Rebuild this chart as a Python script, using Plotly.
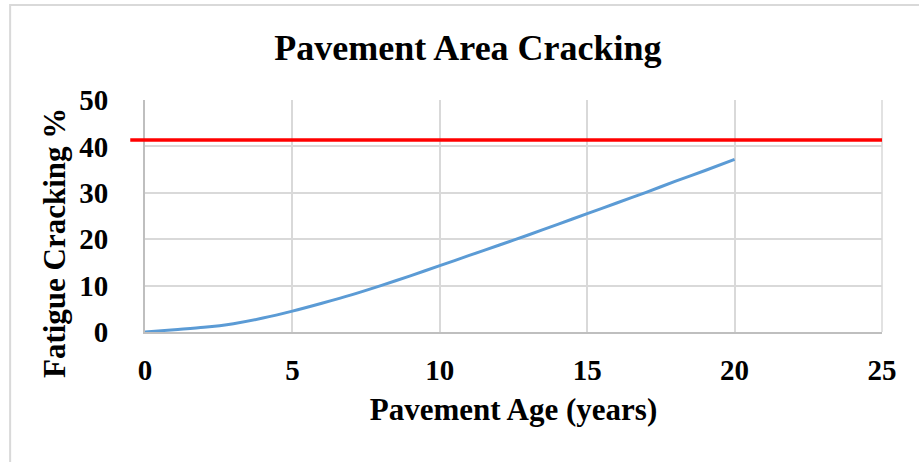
import plotly.graph_objects as go

# Predicted fatigue cracking over pavement life
age_years = [0, 1, 2, 3, 4, 5, 6, 7, 8, 9, 10, 11, 12, 13, 14, 15, 16, 17, 18, 19, 20]
fatigue_cracking = [0.0, 0.5, 1.0, 1.8, 3.0, 4.5, 6.2, 8.0, 10.0, 12.1, 14.3,
                    16.5, 18.7, 20.9, 23.2, 25.5, 27.8, 30.1, 32.5, 34.8, 37.2]
cracking_limit = 41.4

x_ticks = [0, 5, 10, 15, 20, 25]
y_ticks = [0, 10, 20, 30, 40, 50]

SERIF = "Liberation Serif, Times New Roman, serif"
GRID = "#d9d9d9"

fig = go.Figure()
fig.add_trace(go.Scatter(
    x=age_years, y=fatigue_cracking, mode="lines",
    line=dict(color="#5b9bd5", width=3, shape="spline", smoothing=0.8),
    showlegend=False, hoverinfo="x+y",
))

# Design limit line, extended slightly to the left of the value axis
fig.add_shape(type="line", xref="paper", yref="y",
              x0=-0.02, x1=1.0, y0=cracking_limit, y1=cracking_limit,
              line=dict(color="#ff0000", width=3.5), layer="above")

# Chart frame
fig.add_shape(type="rect", xref="paper", yref="paper",
              x0=-0.183, x1=1.3, y0=-0.8, y1=1.409,
              line=dict(color="#d9d9d9", width=2), layer="below")

# Right border of the plot area
fig.add_shape(type="line", xref="paper", yref="paper", x0=1, x1=1, y0=0, y1=1,
              line=dict(color=GRID, width=1.5), layer="below")

# Value axis title
fig.add_annotation(text="<b>Fatigue Cracking %</b>", textangle=-90,
                   xref="paper", yref="paper", x=-0.123, y=0.385,
                   xanchor="center", yanchor="middle", showarrow=False,
                   font=dict(family=SERIF, size=31, color="black"))

fig.update_layout(
    width=919, height=462,
    margin=dict(l=145, r=37, t=100, b=130),
    paper_bgcolor="white", plot_bgcolor="white",
    title=dict(text="<b>Pavement Area Cracking</b>",
               x=468 / 919, xref="container", xanchor="center",
               y=1 - 47 / 462, yref="container", yanchor="middle",
               font=dict(family=SERIF, size=36, color="black")),
    xaxis=dict(range=[0, 25], tickvals=x_ticks, ticktext=[f"<b>{v}</b>" for v in x_ticks],
               showgrid=True, gridcolor=GRID, gridwidth=1.5,
               showline=True, linecolor="#bfbfbf", linewidth=2,
               zeroline=False, ticks="", ticklabelstandoff=11,
               tickfont=dict(family=SERIF, size=29, color="black"),
               title=dict(text="<b>Pavement Age (years)</b>", standoff=14,
                          font=dict(family=SERIF, size=31, color="black"))),
    yaxis=dict(range=[0, 50], tickvals=y_ticks, ticktext=[f"<b>{v}</b>" for v in y_ticks],
               showgrid=True, gridcolor=GRID, gridwidth=1.5,
               showline=True, linecolor="#bfbfbf", linewidth=2,
               zeroline=False, ticks="", ticklabelstandoff=29,
               tickfont=dict(family=SERIF, size=29, color="black")),
)

fig.write_html("out.html")
